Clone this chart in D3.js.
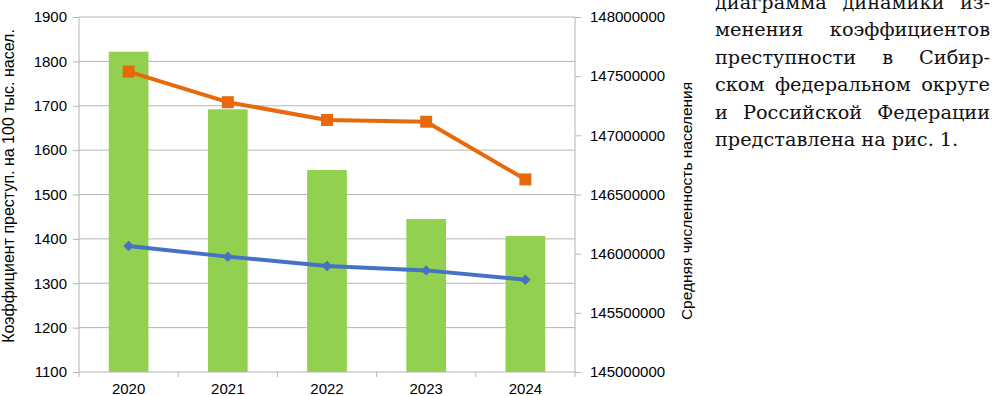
<!DOCTYPE html>
<html>
<head>
<meta charset="utf-8">
<script src="https://cdn.jsdelivr.net/npm/d3@7"></script>
<style>
  body { margin: 0; background: #fff; }
  svg { display: block; }
</style>
</head>
<body>
<svg id="chart" width="992" height="396"></svg>
<script>
// data
const years = ["2020", "2021", "2022", "2023", "2024"];
const population = [147707000, 147220000, 146707000, 146293000, 146149000]; // bars, right axis
const sfoRate = [1777, 1708, 1668, 1664, 1534];   // orange line, left axis
const rfRate = [1384, 1360, 1339, 1329, 1308];    // blue line, left axis
const leftTicks = [1100, 1200, 1300, 1400, 1500, 1600, 1700, 1800, 1900];
const rightTicks = [145000000, 145500000, 146000000, 146500000, 147000000, 147500000, 148000000];
const paraLines = [
  "диаграмма динамики из-",
  "менения коэффициентов",
  "преступности в Сибир-",
  "ском федеральном округе",
  "и Российской Федерации",
  "представлена на рис. 1."
];

const svg = d3.select("#chart");
const plot = { left: 79, right: 575, top: 17, bottom: 372 };
const gridColor = "#b4b4b4";
const font = "'Liberation Sans', Arial, sans-serif";

const x = d3.scaleBand().domain(years).range([plot.left, plot.right]).paddingInner(0.6).paddingOuter(0.3);
const xc = d => x(d) + x.bandwidth() / 2;
const yL = d3.scaleLinear().domain([1100, 1900]).range([plot.bottom, plot.top]);
const yR = d3.scaleLinear().domain([145000000, 148000000]).range([plot.bottom, plot.top]);

// gridlines
svg.append("g").selectAll("line").data(leftTicks.slice(1)).join("line")
  .attr("x1", plot.left).attr("x2", plot.right)
  .attr("y1", d => yL(d)).attr("y2", d => yL(d))
  .attr("stroke", gridColor).attr("stroke-width", 1);

// bars
svg.append("g").selectAll("rect").data(years).join("rect")
  .attr("x", d => x(d))
  .attr("width", x.bandwidth())
  .attr("y", (d, i) => yR(population[i]))
  .attr("height", (d, i) => plot.bottom - yR(population[i]))
  .attr("fill", "#92d050");

// axes
const leftAxis = svg.append("g").attr("transform", `translate(${plot.left},0)`)
  .call(d3.axisLeft(yL).tickValues(leftTicks).tickSize(6).tickPadding(6).tickFormat(d3.format("d")));
const rightAxis = svg.append("g").attr("transform", `translate(${plot.right},0)`)
  .call(d3.axisRight(yR).tickValues(rightTicks).tickSize(6).tickPadding(9).tickFormat(d3.format("d")));
const xBottom = svg.append("g").attr("transform", `translate(0,${plot.bottom})`)
  .call(d3.axisBottom(x).tickSize(0).tickPadding(11));

// category separators on the x axis
const sep = d3.range(years.length + 1).map(i => plot.left + i * (plot.right - plot.left) / years.length);
svg.append("g").selectAll("line").data(sep).join("line")
  .attr("x1", d => d).attr("x2", d => d)
  .attr("y1", plot.bottom).attr("y2", plot.bottom + 5)
  .attr("stroke", gridColor);

[leftAxis, rightAxis, xBottom].forEach(g => {
  g.selectAll(".domain").attr("stroke", gridColor);
  g.selectAll(".tick line").attr("stroke", gridColor);
  g.selectAll("text").attr("font-family", font).attr("font-size", 15).attr("fill", "#000");
});
leftAxis.select(".domain").attr("d", `M0,${plot.top}V${plot.bottom}`);
rightAxis.select(".domain").attr("d", `M0,${plot.top}V${plot.bottom}`);
xBottom.select(".domain").attr("d", `M${plot.left},0H${plot.right}`);

// lines
const line = d3.line().x((d, i) => xc(years[i])).y(d => yL(d));

svg.append("path").datum(sfoRate)
  .attr("d", line).attr("fill", "none")
  .attr("stroke", "#e8690c").attr("stroke-width", 4).attr("stroke-linejoin", "round");
svg.append("g").selectAll("rect").data(sfoRate).join("rect")
  .attr("x", (d, i) => xc(years[i]) - 6).attr("y", d => yL(d) - 6)
  .attr("width", 12).attr("height", 12).attr("fill", "#e8690c");

svg.append("path").datum(rfRate)
  .attr("d", line).attr("fill", "none")
  .attr("stroke", "#4472c4").attr("stroke-width", 4).attr("stroke-linejoin", "round");
svg.append("g").selectAll("path").data(rfRate).join("path")
  .attr("d", d3.symbol().type(d3.symbolDiamond2).size(70))
  .attr("transform", (d, i) => `translate(${xc(years[i])},${yL(d)})`)
  .attr("fill", "#4472c4");

// axis titles
svg.append("text")
  .attr("transform", `translate(13.5,186) rotate(-90)`)
  .attr("text-anchor", "middle")
  .attr("font-family", font).attr("font-size", 16)
  .text("Коэффициент преступ. на 100 тыс. насел.");
svg.append("text")
  .attr("transform", `translate(692,201) rotate(-90)`)
  .attr("text-anchor", "middle")
  .attr("font-family", font).attr("font-size", 15.5)
  .text("Средняя численность населения");

// justified paragraph on the right
const para = svg.append("g").attr("font-family", "'DejaVu Serif', serif").attr("font-size", 19.3).attr("fill", "#111");
const pLeft = 715, pRight = 990, lineGap = 27.5, firstBase = 8.5;
paraLines.forEach((txt, li) => {
  const words = txt.split(" ");
  const yy = firstBase + li * lineGap;
  const nodes = words.map(w => para.append("text").attr("y", yy).text(w));
  const widths = nodes.map(n => n.node().getComputedTextLength());
  const total = d3.sum(widths);
  const last = li === paraLines.length - 1;
  const gap = last ? 6 : (pRight - pLeft - total) / (words.length - 1);
  let cx = pLeft;
  nodes.forEach((n, i) => { n.attr("x", cx); cx += widths[i] + gap; });
});
</script>
</body>
</html>
